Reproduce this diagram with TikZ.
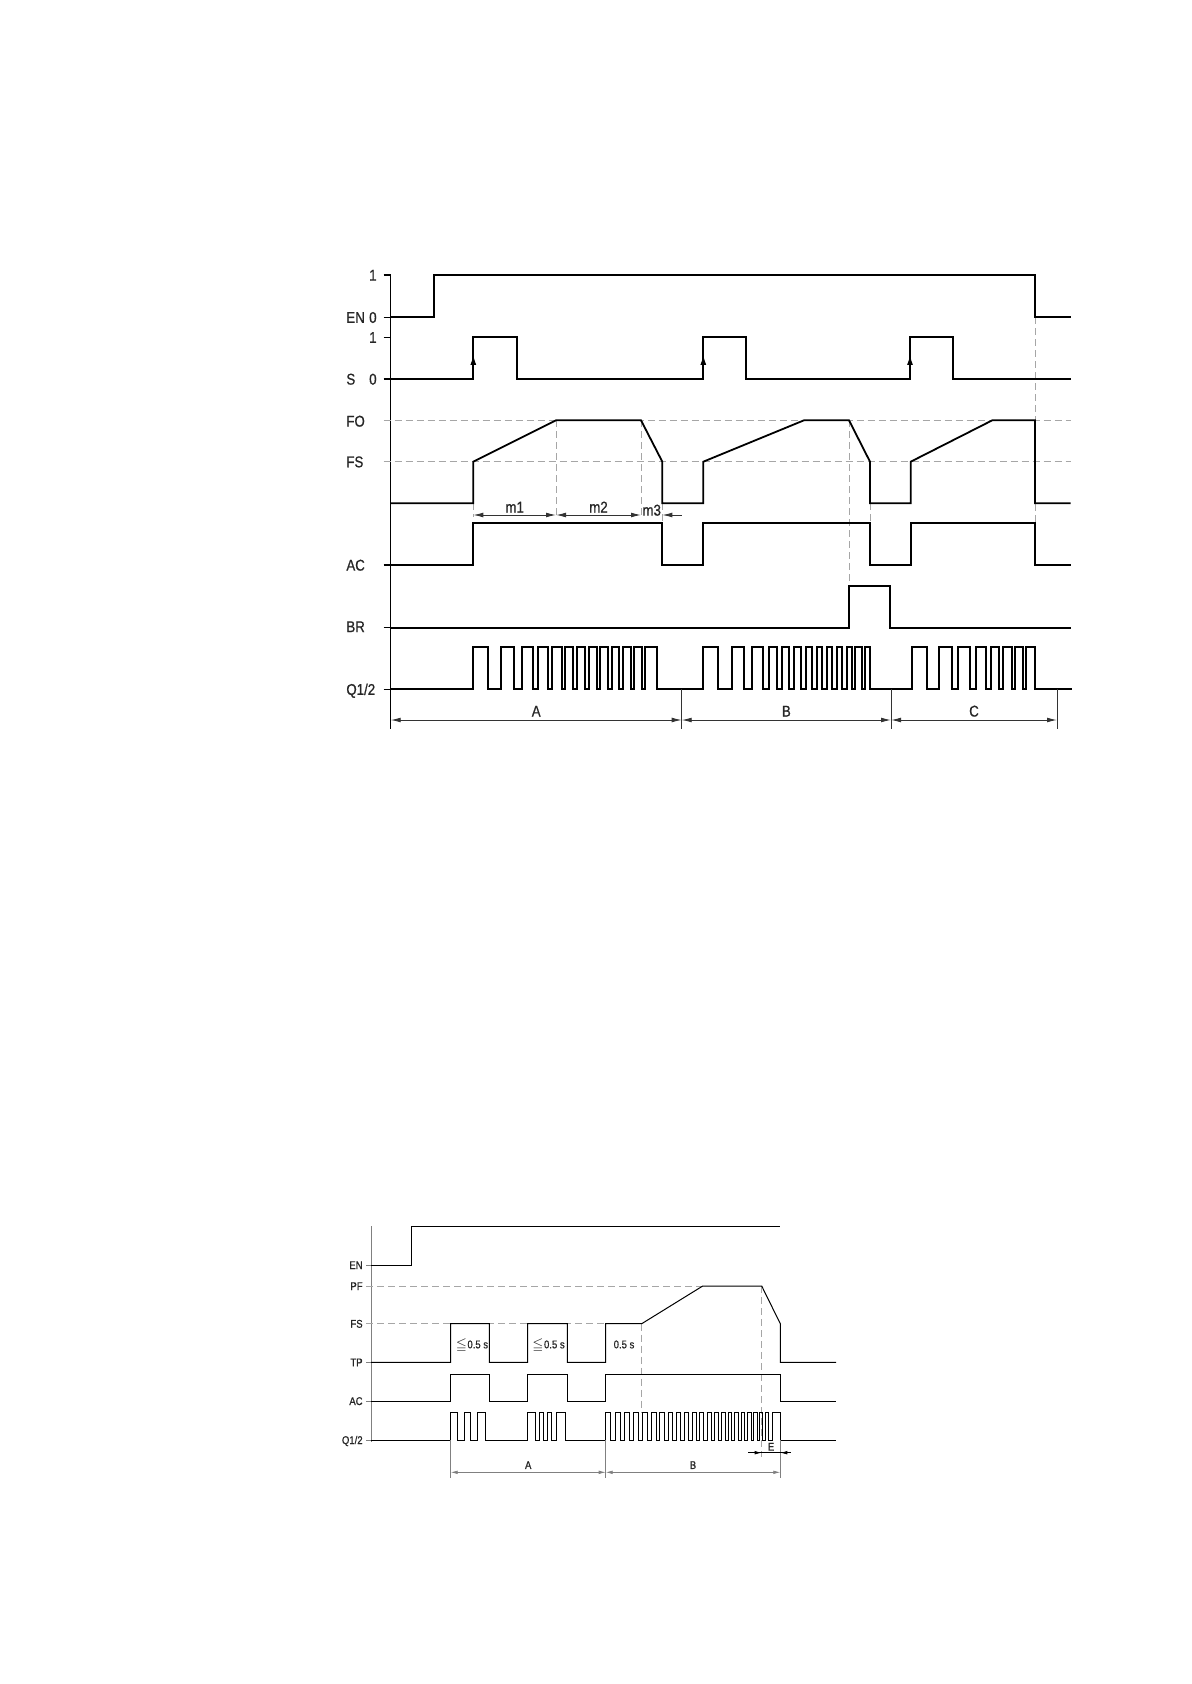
\documentclass[tikz,border=0pt]{standalone}
\usepackage{fontspec}
\usepackage{amssymb}
\setmainfont{Liberation Sans}[FakeStretch=0.85, FakeBold=0.8]
\usetikzlibrary{arrows.meta}

\begin{document}
\begin{tikzpicture}[x=0.5pt, y=-0.5pt,
  sig/.style={line width=0.9pt},
  thinsig/.style={line width=0.5pt},
  axisline/.style={line width=0.6pt},
  guide/.style={gray!70, line width=0.5pt, dash pattern=on 3.5pt off 2pt},
  dimline/.style={line width=0.45pt, black!80},
  thindim/.style={line width=0.35pt, gray},
  dimarrows/.style={{Latex[length=5pt,width=2.4pt]}-{Latex[length=5pt,width=2.4pt]}},
  smallarrows/.style={{Latex[length=3.5pt,width=1.8pt]}-{Latex[length=3.5pt,width=1.8pt]}},
  lbl/.style={font=\fontsize{7.8}{9}\selectfont, text=black!85, inner sep=0pt, text height=5.6pt, text depth=0pt},
  smalllbl/.style={font=\fontsize{5.6}{7}\selectfont, text=black!85, inner sep=0pt, text height=4pt, text depth=0pt}
]
\useasboundingbox (0,0) rectangle (1191,1684);

% ---------- upper diagram ----------
\draw[axisline] (390.7,275) -- (390.7,729);
\foreach \y in {275,317.3,337.3,379,565,627.7,689.3}
  \draw[axisline] (383.5,\y) -- (390.7,\y);
\draw[guide] (383.5,420.3) -- (1070.7,420.3);
\draw[guide] (383.5,461.7) -- (1070.7,461.7);
\draw[guide] (473.3,503.3) -- (473.3,517);
\draw[guide] (556,420.3) -- (556,517);
\draw[guide] (641,420.3) -- (641,517);
\draw[guide] (662.3,503.3) -- (662.3,522.7);
\draw[guide] (849,420.3) -- (849,586);
\draw[guide] (870,503.3) -- (870,522.7);
\draw[guide] (1035,317.3) -- (1035,522.7);

\node[lbl, anchor=east] (enone) at (377,275) {1};
\node[lbl, anchor=west] (en) at (346,317.3) {EN};
\node[lbl, anchor=east] (enzero) at (377,317.3) {0};
\node[lbl, anchor=east] (sone) at (377,337.3) {1};
\node[lbl, anchor=west] (s) at (346,379) {S};
\node[lbl, anchor=east] (szero) at (377,379) {0};
\node[lbl, anchor=west] (fo) at (346,421) {FO};
\node[lbl, anchor=west] (fs) at (346,461.7) {FS};
\node[lbl, anchor=west] (ac) at (346,565) {AC};
\node[lbl, anchor=west] (br) at (346,626.5) {BR};
\node[lbl, anchor=west] (q) at (346,689.3) {Q1/2};

% EN
\draw[sig] (390.7,317.3) -- (434,317.3) -- (434,275) -- (1035,275) -- (1035,317.3) -- (1070.7,317.3);
% S
\draw[sig] (390.7,379) -- (473.3,379) |- (516.7,337.3) |- (703.3,379) |- (745.7,337.3)
  |- (910,379) |- (952.7,337.3) |- (1070.7,379);
\foreach \x in {473.3,703.3,910}
  \draw[-{Latex[length=5pt,width=3pt]}, line width=0.6pt] (\x,372) -- (\x,355);
% FO / FS
\draw[sig] (390.7,503.3) -- (473.3,503.3) -- (473.3,461.7) -- (556,420.3) -- (641,420.3)
  -- (662.3,461.7) -- (662.3,503.3) -- (703.3,503.3) -- (703.3,461.7) -- (804,420.3)
  -- (849,420.3) -- (870,461.7) -- (870,503.3) -- (910.7,503.3) -- (910.7,461.7)
  -- (992.3,420.3) -- (1035,420.3) -- (1035,503.3) -- (1070.7,503.3);
% AC
\draw[sig] (390.7,565) -- (473.3,565) |- (662.3,522.7) |- (703.3,565) |- (870,522.7)
  |- (910.7,565) |- (1035,522.7) |- (1070.7,565);
% BR
\draw[sig] (390.7,627.7) -- (849,627.7) |- (890,586) |- (1070.7,627.7);
% Q1/2
\draw[sig] (390.7,689.3)
  \foreach \a/\b in {473.3/488,501/514.3,521.7/533.3,538.3/548.3,552.3/561.7,565/573.3,
    577.3/585,589/596.7,600/607.7,611.7/619,623.3/630.7,634.3/641.7,645/657,
    703.3/718.3,731.7/744.3,751.7/763.3,769/776.7,782.3/789,794.3/801,805.7/811.7,
    816.7/822.3,826.7/832.3,836.7/842.3,846.7/851.7,855/861.7,865/870,
    911.7/926.7,939.3/951.7,958.3/970,976/986,990.7/999.3,1003.3/1011.7,1015/1022.7,1026/1035}
  { -- (\a,689.3) |- (\b,647.3) -- (\b,689.3) } -- (1071.7,689.3);

% dimensions
\draw[dimarrows, dimline] (473.3,515) -- (556,515) node[lbl, midway, above=1pt] (mone) {m1};
\draw[dimarrows, dimline] (556,515) -- (641,515) node[lbl, midway, above=1pt] (mtwo) {m2};
\node[lbl, anchor=south] (mthree) at (651.7,516) {m3};
\draw[dimline, -{Latex[length=5pt,width=2.4pt]}] (681.7,515) -- (662.3,515);

\draw[dimline] (681.7,689.3) -- (681.7,729) (891,689.3) -- (891,729) (1057,689.3) -- (1057,729);
\draw[dimarrows, dimline] (390.7,720) -- (681.7,720) node[lbl, midway, above=1.5pt] (ta) {A};
\draw[dimarrows, dimline] (681.7,720) -- (891,720) node[lbl, midway, above=1.5pt] (tb) {B};
\draw[dimarrows, dimline] (891,720) -- (1057,720) node[lbl, midway, above=1.5pt] (tc) {C};

% ---------- lower diagram ----------
\draw[thindim] (371,1226) -- (371,1441.7);
\foreach \y in {1265,1362.3,1401,1440}
  \draw[thindim] (366,\y) -- (371,\y);
\draw[guide, line width=0.4pt] (366,1286) -- (702.7,1286);
\draw[guide, line width=0.4pt] (366,1323.7) -- (641.7,1323.7);
\draw[guide, line width=0.4pt] (641.7,1323.7) -- (641.7,1412.3);
\draw[guide, line width=0.4pt] (761.7,1286) -- (761.7,1457);

\node[smalllbl, anchor=east] (ben) at (363,1265) {EN};
\node[smalllbl, anchor=east] (bpf) at (363,1286) {PF};
\node[smalllbl, anchor=east] (bfs) at (363,1323.7) {FS};
\node[smalllbl, anchor=east] (btp) at (363,1362.3) {TP};
\node[smalllbl, anchor=east] (bac) at (363,1401) {AC};
\node[smalllbl, anchor=east] (bq) at (363,1440) {Q1/2};

% EN
\draw[thinsig] (371,1265) -- (411,1265) -- (411,1226) -- (780,1226);
% TP
\draw[thinsig] (371,1362.3) -- (450.7,1362.3) |- (489.3,1323.7) |- (527.7,1362.3) |- (567.3,1323.7)
  |- (605.7,1362.3) |- (641.7,1323.7) -- (702.7,1286) -- (761.7,1286) -- (780.3,1323.7)
  -- (780.3,1362.3) -- (836,1362.3);
% AC
\draw[thinsig] (371,1401) -- (450.7,1401) |- (489.3,1374) |- (527.7,1401) |- (567.3,1374)
  |- (605.7,1401) |- (780.3,1374) |- (836,1401);
% Q1/2
\draw[thinsig] (371,1440)
  \foreach \a/\b in {450.7/457.3,464/470.7,477.3/485,
    527.5/535,539.3/543.5,547.5/551.7,556/565,
    605.7/610.9,615.2/620.3,624.5/629.5,633.6/638.5,642.6/647.4,651.3/656,659.9/664.5,
    668.3/672.8,676.4/680.8,684.4/688.7,692.2/696.4,699.8/703.9,707.2/711.2,714.4/718.3,
    721.4/725.2,728.2/731.9,734.9/738.5,741.3/744.8,747.6/751,753.7/757,759.6/762.8,
    765.3/768.4,772/780.3}
  { -- (\a,1440) |- (\b,1412.3) -- (\b,1440) } -- (836,1440);

\node[smalllbl] (tpone) at (471.7,1344.3) {$\leqq$0.5 s};
\node[smalllbl] (tptwo) at (548.3,1344.3) {$\leqq$0.5 s};
\node[smalllbl] (tpthree) at (624,1344.3) {0.5 s};

% dimensions
\draw[thindim] (450.7,1440) -- (450.7,1478) (605.7,1440) -- (605.7,1478) (780.3,1440) -- (780.3,1478);
\draw[smallarrows, thindim] (450.7,1472.3) -- (605.7,1472.3) node[smalllbl, midway, above=1.5pt] (ba) {A};
\draw[smallarrows, thindim] (605.7,1472.3) -- (780.3,1472.3) node[smalllbl, midway, above=1.5pt] (bb) {B};
\draw[line width=0.35pt] (748,1452.7) -- (790.7,1452.7);
\draw[line width=0.35pt, -{Latex[length=3.5pt,width=1.8pt]}] (748,1452.7) -- (761.7,1452.7);
\draw[line width=0.35pt, -{Latex[length=3.5pt,width=1.8pt]}] (790.7,1452.7) -- (780.3,1452.7);
\node[smalllbl, anchor=south] (be) at (771,1451) {E};
\end{tikzpicture}
\end{document}
